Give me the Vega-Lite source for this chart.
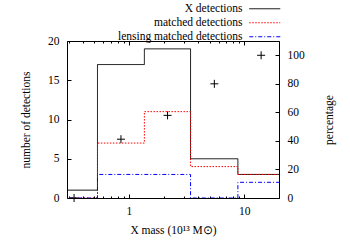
{
  "$schema": "https://vega.github.io/schema/vega-lite/v6.json",
  "autosize": {"type": "none"},
  "padding": {"left": 67, "top": 41, "right": 71, "bottom": 47},
  "width": 212,
  "height": 157,
  "datasets": {
    "steps": [
      {"series": "X detections", "mass": 0.21, "n": 1},
      {"series": "X detections", "mass": 0.533, "n": 17},
      {"series": "X detections", "mass": 1.36, "n": 19},
      {"series": "X detections", "mass": 3.42, "n": 5},
      {"series": "X detections", "mass": 8.8, "n": 3},
      {"series": "X detections", "mass": 22, "n": 3},
      {"series": "matched detections", "mass": 0.21, "n": 0},
      {"series": "matched detections", "mass": 0.533, "n": 7},
      {"series": "matched detections", "mass": 1.36, "n": 11},
      {"series": "matched detections", "mass": 3.42, "n": 4},
      {"series": "matched detections", "mass": 8.8, "n": 3},
      {"series": "matched detections", "mass": 22, "n": 3},
      {"series": "lensing matched detections", "mass": 0.21, "n": 0},
      {"series": "lensing matched detections", "mass": 0.533, "n": 3},
      {"series": "lensing matched detections", "mass": 1.36, "n": 3},
      {"series": "lensing matched detections", "mass": 3.42, "n": 0},
      {"series": "lensing matched detections", "mass": 8.8, "n": 2},
      {"series": "lensing matched detections", "mass": 22, "n": 2}
    ],
    "pct": [
      {"mass": 0.334, "percent": 0},
      {"mass": 0.852, "percent": 41.2},
      {"mass": 2.16, "percent": 57.9},
      {"mass": 5.5, "percent": 80},
      {"mass": 14.0, "percent": 100}
    ]
  },
  "config": {
    "view": {"stroke": "black", "strokeWidth": 1},
    "font": "Liberation Serif",
    "axis": {
      "labelFont": "Liberation Serif",
      "labelFontSize": 11.5,
      "labelColor": "black",
      "titleFont": "Liberation Serif",
      "titleFontSize": 11.5,
      "titleFontWeight": "normal",
      "titleColor": "black",
      "domain": false,
      "grid": false,
      "tickColor": "black",
      "tickWidth": 1
    },
    "legend": {
      "orient": "none",
      "legendX": 192,
      "legendY": -38,
      "title": null,
      "symbolType": "M-3.1,0L3.1,0",
      "symbolSize": 100,
      "symbolStrokeWidth": 1,
      "labelAlign": "right",
      "labelOffset": -28,
      "labelFont": "Liberation Serif",
      "labelFontSize": 11.5,
      "labelColor": "black",
      "labelLimit": 0,
      "rowPadding": 1,
      "padding": 0
    }
  },
  "layer": [
    {
      "data": {"name": "steps"},
      "mark": {"type": "line", "interpolate": "step-after", "clip": true, "strokeWidth": 1},
      "encoding": {
        "x": {
          "field": "mass", "type": "quantitative",
          "scale": {"type": "log", "domain": [0.29, 20], "nice": false},
          "axis": {
            "orient": "bottom",
            "values": [0.3, 0.4, 0.5, 0.6, 0.7, 0.8, 0.9, 1, 2, 3, 4, 5, 6, 7, 8, 9, 10, 20],
            "labelExpr": "datum.value == 1 ? '1' : datum.value == 10 ? '10' : ''",
            "tickSize": {"condition": {"test": "datum.value == 1 || datum.value == 10", "value": -4}, "value": -2},
            "labelPadding": 11,
            "title": "X mass (10¹³ M⊙)",
            "titlePadding": 8
          }
        },
        "y": {
          "field": "n", "type": "quantitative",
          "scale": {"domain": [0, 20], "nice": false},
          "axis": {
            "orient": "left",
            "values": [0, 5, 10, 15, 20],
            "tickSize": -4,
            "labelPadding": 12,
            "title": "number of detections",
            "titlePadding": 16
          }
        },
        "color": {
          "field": "series", "type": "nominal",
          "scale": {"domain": ["X detections", "matched detections", "lensing matched detections"], "range": ["#000000", "#ff0000", "#0000ff"]}
        },
        "strokeDash": {
          "field": "series", "type": "nominal",
          "scale": {"domain": ["X detections", "matched detections", "lensing matched detections"], "range": [[1, 0], [1.5, 1.5], [4, 2, 1, 2]]}
        }
      }
    },
    {
      "data": {"name": "pct"},
      "mark": {"type": "point", "shape": "M-1,0L1,0M0,-1L0,1", "size": 64, "filled": false, "stroke": "black", "strokeWidth": 1, "opacity": 1, "clip": false},
      "encoding": {
        "x": {
          "field": "mass", "type": "quantitative",
          "scale": {"type": "log", "domain": [0.29, 20], "nice": false},
          "axis": {
            "orient": "top",
            "values": [0.3, 0.4, 0.5, 0.6, 0.7, 0.8, 0.9, 1, 2, 3, 4, 5, 6, 7, 8, 9, 10, 20],
            "labels": false,
            "tickSize": {"condition": {"test": "datum.value == 1 || datum.value == 10", "value": -4}, "value": -2},
            "title": null
          }
        },
        "y": {
          "field": "percent", "type": "quantitative",
          "scale": {"domain": [0, 110], "nice": false},
          "axis": {
            "orient": "right",
            "values": [0, 20, 40, 60, 80, 100],
            "tickSize": -4,
            "labelPadding": 12,
            "title": "percentage",
            "titleAngle": 270,
            "titlePadding": 30
          }
        }
      }
    }
  ],
  "resolve": {"scale": {"y": "independent"}, "axis": {"x": "independent", "y": "independent"}}
}
